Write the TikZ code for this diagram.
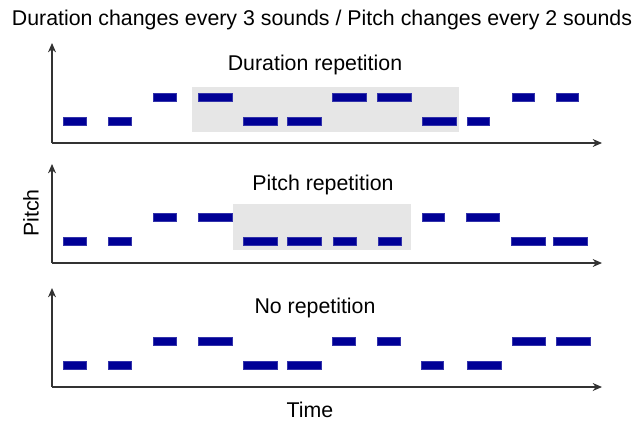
\documentclass[tikz,border=0pt]{standalone}
\usepackage{fontspec}
\setmainfont{Liberation Sans}
\usetikzlibrary{arrows.meta}
\definecolor{notecol}{RGB}{0,0,150}
\definecolor{hilite}{RGB}{230,230,230}
\tikzset{
  axisline/.style={draw=black!80, line width=0.8pt, -{Stealth[length=7pt,width=6pt]}},
  note/.style={fill=notecol, draw=notecol!80!white, line width=0.3pt},
  band/.style={fill=hilite},
  lbl/.style={inner sep=0pt, font=\fontsize{16}{19}\selectfont},
}
\begin{document}
\begin{tikzpicture}[x=0.75pt, y=-0.75pt]
\useasboundingbox (0,0) rectangle (642,422);

% heading
\node[lbl] (heading) at (322,20) {Duration changes every 3 sounds / Pitch changes every 2 sounds};

% highlighted stretches
\fill[band] (192,87) rectangle (459,132);
\fill[band] (233,204) rectangle (411,250);

% panel titles
\node[lbl] (durrep) at (315,65) {Duration repetition};
\node[lbl] (pitrep) at (323,185) {Pitch repetition};
\node[lbl] (norep) at (315,308) {No repetition};

% axis labels
\node[lbl, rotate=90] (pitchlbl) at (31,213) {Pitch};
\node[lbl] (timelbl) at (310,410) {Time};

% axes of the three panels
\foreach \base/\top/\nm in {143/43/a, 263/164/b, 387/288/c} {
  \coordinate (\nm o) at (52,\base);
  \coordinate (\nm y) at (52,\top);
  \coordinate (\nm x) at (602,\base);
  \draw[axisline] (\nm o) -- (\nm y);
  \draw[axisline] (\nm o) -- (\nm x);
}

% notes: start/end/height above the time axis (22 = low, 46 = high)
\foreach \a/\b/\h in {63/86/22,108/131/22,153/176/46,198/232/46,243/277/22,287/321/22,
                      332/366/46,377/411/46,422/456/22,467/489/22,512/534/46,556/578/46}
  \fill[note] (\a,143-\h-4) rectangle (\b,143-\h+4);
\foreach \a/\b/\h in {63/86/22,108/131/22,153/176/46,198/232/46,243/277/22,287/321/22,
                      333/356/22,378/401/22,422/444/46,466/499/46,511/545/22,553/587/22}
  \fill[note] (\a,263-\h-4) rectangle (\b,263-\h+4);
\foreach \a/\b/\h in {63/86/22,108/131/22,153/176/46,198/232/46,243/277/22,287/321/22,
                      332/355/46,377/400/46,421/443/22,467/501/22,512/545/46,556/590/46}
  \fill[note] (\a,387-\h-4) rectangle (\b,387-\h+4);
\end{tikzpicture}
\end{document}
